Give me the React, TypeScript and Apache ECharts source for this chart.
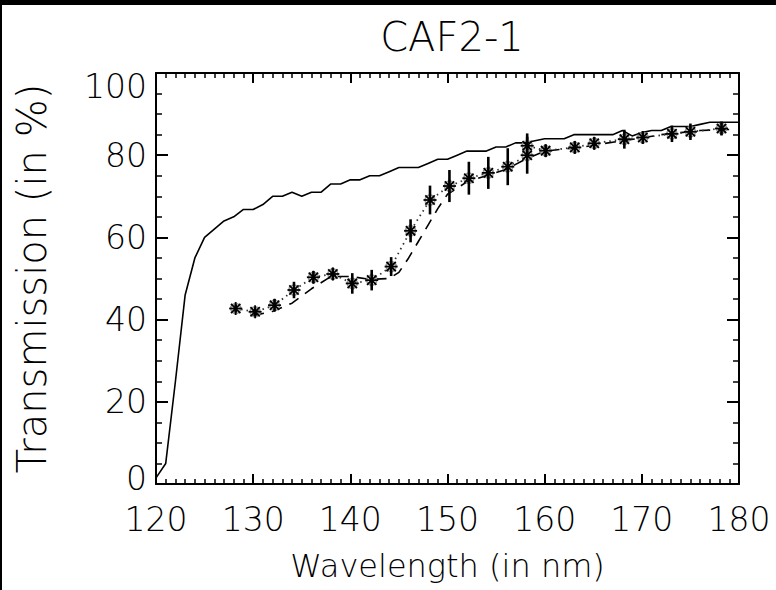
import React, { useEffect, useRef } from "react";
import * as echarts from "echarts";

const solidX = [120,121,122,123,124,125,126,127,128,129,130,131,132,133,134,135,136,137,138,139,140,141,142,143,144,145,146,147,148,149,150,151,152,153,154,155,156,157,158,159,160,161,162,163,164,165,166,167,168,169,170,171,172,173,174,175,176,177,178,179,180];
const solidY = [1.5,5,25,46,55,60,62,64,65,66.8,66.8,68,70,70,71,70,71,71,73,73,74,74,75,75,76,77,77,77,78,79,79,80,81,81,81,82,82,83,83,83.5,84,84,84,85,85,85,85,85,86,84.7,85.5,86,86,87,87,87,87.5,88,88,88,88];

const dashX = [130,132,134,136,138,140,142,144,145,146,147,148,149,150,152,154,156,158,160,162,164,166,168,170,172,174,176,178,179.5];
const dashY = [41,42,44,47.5,50.5,50.5,49.8,50,51.5,55,59,63,67,70.5,73.5,75,76.5,79,81,81.5,82,82.8,83.5,84.2,85,85.5,86,86.2,86.3];

const starX = [128.2,130.2,132.2,134.2,136.2,138.2,140.2,142.2,144.2,146.2,148.2,150.2,152.2,154.2,156.2,158.2,158.2,160.1,163.1,165.1,168.2,170.1,173.1,175.0,178.2];
const starY = [42.7,41.9,43.5,47.2,50.3,51.1,48.8,49.6,52.9,61.6,69.1,72.5,74.4,75.7,77.2,80.0,82.3,81.1,81.9,82.9,83.9,84.3,85.2,85.7,86.5];
const starErr = [1,1,1.5,2,1.5,1.5,2.5,2.5,2.3,2.8,3.5,3.9,4,3.9,4.5,4.5,3,1.5,1.5,1.5,2.3,1.5,2,2,1.7];

const xTicks = { min: 120, max: 180, interval: 10 };
const yTicks = { min: 0, max: 100, interval: 20 };

const FONT = "DejaVu Sans";
const TXT = "#000";

export default function App() {
  const ref = useRef<HTMLDivElement>(null);
  useEffect(() => {
    const chart = echarts.init(ref.current!, null, { renderer: "svg" });
    const axisLine = { show: true, onZero: false, lineStyle: { color: "#000", width: 2 } };
    const xCommon = {
      type: "value", ...xTicks,
      axisLine,
      axisTick: { show: true, inside: true, length: 10, lineStyle: { color: "#000", width: 2 } },
      minorTick: { show: true, splitNumber: 10, length: 5, lineStyle: { color: "#000", width: 1.5 } },
      splitLine: { show: false },
      minorSplitLine: { show: false },
    };
    const yCommon = {
      type: "value", ...yTicks,
      axisLine,
      axisTick: { show: true, inside: true, length: 12, lineStyle: { color: "#000", width: 2 } },
      minorTick: { show: true, splitNumber: 4, length: 6, lineStyle: { color: "#000", width: 1.5 } },
      splitLine: { show: false },
      minorSplitLine: { show: false },
    };
    const stars = starX.map((x, i) => [x, starY[i], starErr[i]]);
    const yMin = yTicks.min;
    const yMax = yTicks.max;
    chart.setOption({
      animation: false,
      backgroundColor: "#fff",
      textStyle: { fontFamily: FONT },
      title: {
        text: "CAF2-1",
        left: 447,
        top: 12,
        textAlign: "center",
        textStyle: { fontFamily: FONT, fontSize: 40, fontWeight: 200, color: TXT },
      },
      graphic: [
        { type: "rect", shape: { x: 0, y: 0, width: 776, height: 5 }, style: { fill: "#000" } },
        { type: "rect", shape: { x: 0, y: 0, width: 2, height: 590 }, style: { fill: "#000" } },
      ],
      grid: { left: 156, right: 37, top: 73, bottom: 106, show: false },
      xAxis: [
        {
          ...xCommon,
          position: "bottom",
          axisLabel: { fontFamily: FONT, fontSize: 33, fontWeight: 200, color: TXT, margin: 19 },
          name: "Wavelength (in nm)",
          nameLocation: "middle",
          nameGap: 66,
          nameTextStyle: { fontFamily: FONT, fontSize: 32, fontWeight: 200, color: TXT },
        },
        { ...xCommon, position: "top", axisLabel: { show: false } },
      ],
      yAxis: [
        {
          ...yCommon,
          position: "left",
          axisLabel: {
            fontFamily: FONT, fontSize: 33, fontWeight: 200, color: TXT, margin: 9,
            formatter: (v: number) => (v === yMin ? "{lo|" + v + "}" : v === yMax ? "{hi|" + v + "}" : String(v)),
            rich: {
              lo: { fontFamily: FONT, fontSize: 33, fontWeight: 200, color: TXT, padding: [0, 0, 12, 0] },
              hi: { fontFamily: FONT, fontSize: 33, fontWeight: 200, color: TXT, padding: [26, 0, 0, 0] },
            },
          },
          name: "Transmission (in %)",
          nameLocation: "middle",
          nameGap: 104,
          nameTextStyle: { fontFamily: FONT, fontSize: 40, fontWeight: 200, color: TXT },
        },
        { ...yCommon, position: "right", axisLabel: { show: false } },
      ],
      series: [
        {
          type: "line",
          data: solidX.map((x, i) => [x, solidY[i]]),
          showSymbol: false,
          lineStyle: { color: "#000", width: 1.6 },
          z: 3,
        },
        {
          type: "line",
          data: dashX.map((x, i) => [x, dashY[i]]),
          showSymbol: false,
          lineStyle: { color: "#000", width: 1.6, type: [11, 8] },
          z: 3,
        },
        {
          type: "line",
          data: starX.map((x, i) => [x, starY[i]]),
          showSymbol: false,
          lineStyle: { color: "#333", width: 1.8, type: [1.5, 4] },
          z: 3,
        },
        {
          type: "custom",
          data: stars,
          encode: { x: 0, y: 1 },
          z: 4,
          renderItem: (params: any, api: any) => {
            const x = api.value(0);
            const y = api.value(1);
            const e = api.value(2);
            const c = api.coord([x, y]);
            const lo = api.coord([x, y - e]);
            const hi = api.coord([x, y + e]);
            const r = 6.5;
            const d = r * 0.72;
            const st = { stroke: "#000", lineWidth: 1.8 };
            return {
              type: "group",
              children: [
                { type: "circle", shape: { cx: c[0], cy: c[1], r: 5 }, style: { fill: "none", stroke: "#999", lineWidth: 1.6 } },
                { type: "line", shape: { x1: lo[0], y1: lo[1], x2: hi[0], y2: hi[1] }, style: { stroke: "#000", lineWidth: 2.6 } },
                { type: "line", shape: { x1: c[0] - r, y1: c[1], x2: c[0] + r, y2: c[1] }, style: st },
                { type: "line", shape: { x1: c[0], y1: c[1] - r, x2: c[0], y2: c[1] + r }, style: st },
                { type: "line", shape: { x1: c[0] - d, y1: c[1] - d, x2: c[0] + d, y2: c[1] + d }, style: st },
                { type: "line", shape: { x1: c[0] - d, y1: c[1] + d, x2: c[0] + d, y2: c[1] - d }, style: st },
              ],
            };
          },
        },
      ],
    });
    return () => chart.dispose();
  }, []);
  return (
    <div
      ref={ref}
      style={{ position: "absolute", left: 0, top: 0, width: 776, height: 590, background: "#fff" }}
    />
  );
}
